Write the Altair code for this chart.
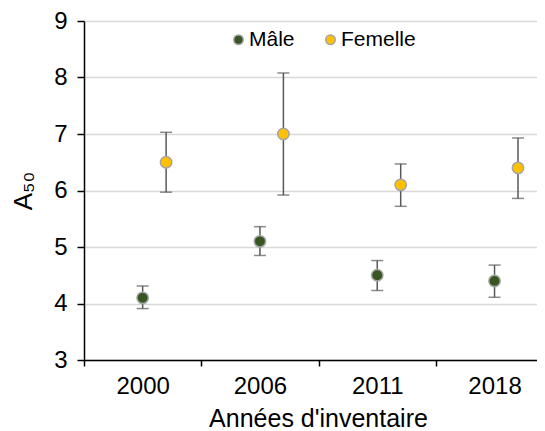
import json
import altair as alt
import pandas as pd

annees = ["2000", "2006", "2011", "2018"]
male_val = [4.1, 5.1, 4.5, 4.4]
male_bas = [3.91, 4.85, 4.23, 4.11]
male_haut = [4.31, 5.36, 4.76, 4.68]
femelle_val = [6.5, 7.0, 6.1, 6.4]
femelle_bas = [5.97, 5.92, 5.72, 5.86]
femelle_haut = [7.03, 8.08, 6.47, 6.93]
sexes = ["Mâle", "Femelle"]
couleurs = ["#375623", "#FFC000"]

rows = []
for i, a in enumerate(annees):
    rows.append(dict(annee=a, i=i, sexe=sexes[0], val=male_val[i], bas=male_bas[i], haut=male_haut[i]))
    rows.append(dict(annee=a, i=i, sexe=sexes[1], val=femelle_val[i], bas=femelle_bas[i], haut=femelle_haut[i]))
df = pd.DataFrame(rows)

FONT = "Liberation Sans"
BAND = 117.3

base = alt.Chart(df).transform_calculate(
    xpos="datum.i + (datum.sexe == 'Femelle' ? 0.2 : 0)"
)

x_enc = alt.X(
    "xpos:Q",
    scale=alt.Scale(domain=[-0.5, 3.362], nice=False, zero=False),
    axis=alt.Axis(
        values=[-0.5, 0.5, 1.5, 2.5],
        labelExpr=json.dumps(annees) + "[round(datum.value + 0.5)]",
        labelOffset=BAND / 2,
        labelFlush=False,
        labelAlign="center",
        labelOverlap=False,
        grid=False,
        tickSize=6,
        tickWidth=1.5,
        tickColor="black",
        domainColor="black",
        domainWidth=1.5,
        labelFontSize=24,
        labelFont=FONT,
        labelColor="black",
        labelPadding=8,
        title="Années d'inventaire",
        titleFont=FONT,
        titleFontSize=25,
        titleFontWeight="normal",
        titleColor="black",
        titleX=234,
        titlePadding=8,
    ),
)

y_scale = alt.Scale(domain=[3, 9], nice=False, zero=False)
y_axis = alt.Axis(
    values=[3, 4, 5, 6, 7, 8, 9],
    grid=True,
    gridColor="#d9d9d9",
    gridWidth=1.3,
    tickSize=7,
    tickWidth=1.5,
    tickColor="black",
    domainColor="black",
    domainWidth=1.5,
    labelFontSize=24,
    labelFont=FONT,
    labelColor="black",
    labelPadding=10,
    title="A₅₀",
    titleFont=FONT,
    titleFontSize=26,
    titleFontWeight="normal",
    titleColor="black",
    titlePadding=17,
)

rules = base.mark_rule(color="#595959", strokeWidth=1.5).encode(
    x=x_enc,
    y=alt.Y("bas:Q", scale=y_scale, axis=y_axis),
    y2="haut:Q",
)
cap_bas = base.mark_tick(orient="horizontal", size=12, thickness=1.5, color="#595959").encode(
    x=x_enc, y=alt.Y("bas:Q", scale=y_scale, axis=y_axis)
)
cap_haut = base.mark_tick(orient="horizontal", size=12, thickness=1.5, color="#595959").encode(
    x=x_enc, y=alt.Y("haut:Q", scale=y_scale, axis=y_axis)
)
points = base.mark_circle(size=130, stroke="#a5a5a5", strokeWidth=1.5, opacity=1).encode(
    x=x_enc,
    y=alt.Y("val:Q", scale=y_scale, axis=y_axis),
    color=alt.Color(
        "sexe:N",
        scale=alt.Scale(domain=sexes, range=couleurs),
        legend=alt.Legend(
            orient="none",
            legendX=144,
            legendY=8,
            direction="horizontal",
            title=None,
            symbolType="circle",
            symbolSize=90,
            symbolStrokeColor="#a5a5a5",
            symbolStrokeWidth=1.5,
            symbolOpacity=1,
            labelFontSize=21,
            labelFont=FONT,
            labelColor="black",
            labelOffset=0,
            columnPadding=25,
            padding=0,
        ),
    ),
)

chart = alt.layer(rules, cap_bas, cap_haut, points).properties(
    width=453,
    height=339,
    padding={"left": 2, "top": 1, "right": 0, "bottom": 0},
    background="white",
).configure_view(stroke=None)

chart.save("out.html", embed_options={"renderer": "svg", "actions": False})
